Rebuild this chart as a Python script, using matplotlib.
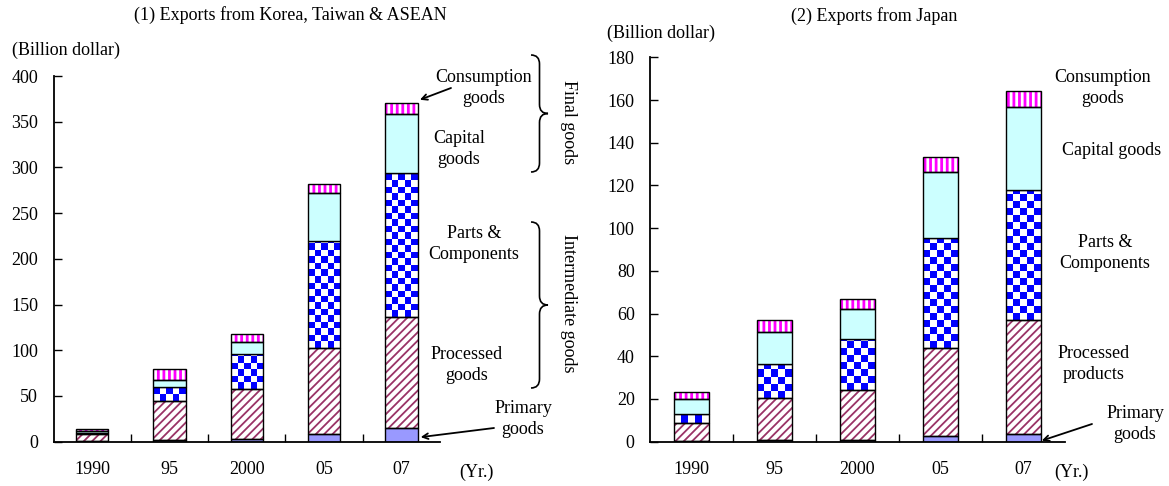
import matplotlib
matplotlib.use('Agg')
import matplotlib.pyplot as plt
import numpy as np
from matplotlib.path import Path
from matplotlib.patches import PathPatch

plt.rcParams['font.family'] = ['Liberation Serif', 'DejaVu Serif']
plt.rcParams['hatch.linewidth'] = 1.3

# data (billion dollars)
years = ['1990', '95', '2000', '05', '07']

kta_primary = [0.5, 1.5, 3, 8.5, 15]
kta_processed = [7.5, 43, 55, 94.5, 121]
kta_parts = [1.5, 15, 38, 116, 158]
kta_capital = [2, 8.5, 13.5, 53, 64]
kta_consumption = [2, 11, 8, 10, 12]

jp_primary = [0.3, 0.8, 0.8, 2.6, 3.4]
jp_processed = [8.3, 19.8, 23.4, 41.3, 53.8]
jp_parts = [4.3, 16, 24.1, 51.6, 60.5]
jp_capital = [6.9, 14.7, 14, 31, 38.9]
jp_consumption = [3.6, 5.9, 4.6, 6.7, 7.5]

W, H = 1169, 486
FS = 13
fig = plt.figure(figsize=(W / 100, H / 100), dpi=100)


def fxy(x, y):
    # pixel position (from top-left) -> figure fraction
    return x / W, 1 - y / H


ax1 = fig.add_axes([53.5 / W, 44.3 / H, 386.5 / W, 365.7 / H])
ax2 = fig.add_axes([650 / W, 44.3 / H, 415 / W, 384.4 / H])


def panel(ax, primary, processed, parts, capital, consumption, ymax, ystep):
    x = np.arange(len(years))
    bw = 0.42
    ax.set_xlim(-0.5, 4.5)
    ax.set_ylim(0, ymax)
    bottom = np.zeros(len(x))

    ax.bar(x, primary, bw, bottom=bottom, color='#9999FF', edgecolor='black', lw=1, zorder=3)
    bottom += primary

    ax.bar(x, processed, bw, bottom=bottom, color='white', edgecolor='#993366',
           hatch='////', lw=0, zorder=2)
    ax.bar(x, processed, bw, bottom=bottom, fill=False, edgecolor='black', lw=1, zorder=3)
    bottom += processed

    rects = ax.bar(x, parts, bw, bottom=bottom, color='white', edgecolor='none', zorder=1)
    ax.bar(x, parts, bw, bottom=bottom, fill=False, edgecolor='black', lw=1, zorder=3)
    # checkerboard fill
    px_x = ax.bbox.width / 5.0
    px_y = ax.bbox.height / ymax
    for r in rects:
        x0, w, y0, h = r.get_x(), r.get_width(), r.get_y(), r.get_height()
        ncol = 5
        cell = (w * px_x / ncol) / px_y
        nrow = max(1, int(np.ceil(h / cell)))
        ii, jj = np.mgrid[0:nrow, 0:ncol]
        board = (ii + jj) % 2
        im = ax.imshow(board, cmap=matplotlib.colors.ListedColormap(['white', '#0000FF']),
                       extent=(x0, x0 + w, y0, y0 + nrow * cell), origin='lower',
                       aspect='auto', interpolation='nearest', zorder=2)
        im.set_clip_path(r)
    bottom += parts

    ax.bar(x, capital, bw, bottom=bottom, color='#CCFFFF', edgecolor='black', lw=1, zorder=3)
    bottom += capital

    with plt.rc_context({'hatch.linewidth': 2.0}):
        ax.bar(x, consumption, bw, bottom=bottom, color='white', edgecolor='#FF00FF',
               hatch='|||', lw=0, zorder=2)
    ax.bar(x, consumption, bw, bottom=bottom, fill=False, edgecolor='black', lw=1, zorder=3)
    bottom += consumption

    ax.set_xlim(-0.5, 4.5)
    ax.set_ylim(0, ymax)
    ax.spines['top'].set_visible(False)
    ax.spines['right'].set_visible(False)
    ax.spines['left'].set_linewidth(1.3)
    ax.spines['bottom'].set_linewidth(1.3)
    ax.spines['bottom'].set_zorder(4)

    ax.set_xticks([0.5, 1.5, 2.5, 3.5])
    ax.set_xticklabels([])
    ax.tick_params(axis='x', which='major', direction='in', length=6, width=1)
    ax.set_xticks(x, minor=True)
    ax.set_xticklabels(years, minor=True, fontsize=FS)
    ax.tick_params(axis='x', which='minor', length=0, pad=14)

    ax.set_yticks(np.arange(0, ymax + 1, ystep))
    ax.tick_params(axis='y', direction='in', length=6, width=1, pad=11, labelsize=FS)
    return bottom


tot1 = panel(ax1, kta_primary, kta_processed, kta_parts, kta_capital, kta_consumption, 400, 50)
tot2 = panel(ax2, jp_primary, jp_processed, jp_parts, jp_capital, jp_consumption, 180, 20)


def txt(x, y, s, **kw):
    kw.setdefault('ha', 'center')
    kw.setdefault('va', 'center')
    kw.setdefault('fontsize', FS)
    fig.text(*fxy(x, y), s, linespacing=1.35, **kw)


def arrow(ax, tip, x, y):
    ax.annotate('', xy=tip, xycoords='data', xytext=fxy(x, y), textcoords='figure fraction',
                arrowprops=dict(arrowstyle='->', lw=1.3, color='black', shrinkA=0, shrinkB=0))


def brace(x0, y0, y1, w=17, r=9):
    ym = (y0 + y1) / 2
    b = x0 + w / 2
    c = x0 + w
    pts = [(x0, y0), (b, y0), (b, y0 + r), (b, ym - r), (b, ym), (c, ym),
           (b, ym), (b, ym + r), (b, y1 - r), (b, y1), (x0, y1)]
    codes = [Path.MOVETO, Path.CURVE3, Path.CURVE3, Path.LINETO, Path.CURVE3, Path.CURVE3,
             Path.CURVE3, Path.CURVE3, Path.LINETO, Path.CURVE3, Path.CURVE3]
    pts = [fxy(px, py) for px, py in pts]
    fig.add_artist(PathPatch(Path(pts, codes), fill=False, lw=1.2, color='black',
                             transform=fig.transFigure))


# left panel texts
txt(290, 15, '(1) Exports from Korea, Taiwan & ASEAN')
txt(12, 50, '(Billion dollar)', ha='left')
txt(476, 472, '(Yr.)')
txt(484, 88, 'Consumption\ngoods')
txt(459, 149, 'Capital\ngoods')
txt(474, 244, 'Parts &\nComponents')
txt(467, 365, 'Processed\ngoods')
txt(523, 419, 'Primary\ngoods')
txt(569, 122, 'Final goods', rotation=270)
txt(569, 303, 'Intermediate goods', rotation=270)
brace(531, 55, 172)
brace(531, 222, 388)
arrow(ax1, (4 + 0.24, tot1[4] + 4), 451, 88)
arrow(ax1, (4 + 0.25, 5), 494, 428)

# right panel texts
txt(874, 16, '(2) Exports from Japan')
txt(607, 33, '(Billion dollar)', ha='left')
txt(1071, 472, '(Yr.)')
txt(1103, 88, 'Consumption\ngoods')
txt(1112, 150, 'Capital goods')
txt(1105, 253, 'Parts &\nComponents')
txt(1094, 364, 'Processed\nproducts')
txt(1135, 424, 'Primary\ngoods')
arrow(ax2, (4 + 0.22, 0.5), 1092, 424)

fig.savefig('out.png', dpi=100)
